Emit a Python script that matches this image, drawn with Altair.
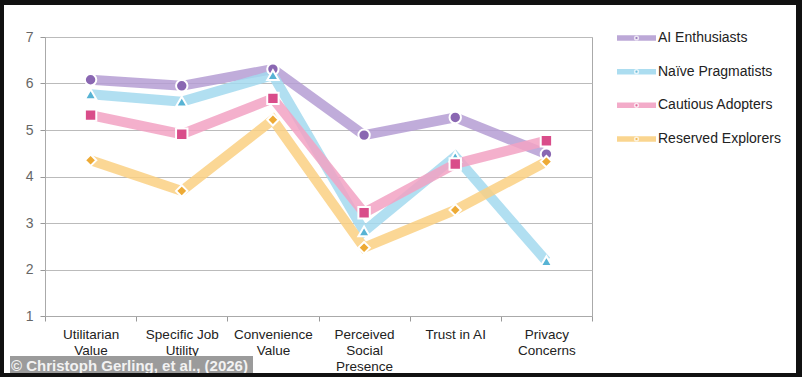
import altair as alt
import pandas as pd

categories = ["Utilitarian Value", "Specific Job Utility", "Convenience Value",
              "Perceived Social Presence", "Trust in AI", "Privacy Concerns"]
cat_lines = [["Utilitarian", "Value"], ["Specific Job", "Utility"], ["Convenience", "Value"],
             ["Perceived", "Social", "Presence"], ["Trust in AI"], ["Privacy", "Concerns"]]

series = ["AI Enthusiasts", "Naïve Pragmatists", "Cautious Adopters", "Reserved Explorers"]
ai_enthusiasts = [6.08, 5.95, 6.31, 4.89, 5.27, 4.48]
naive_pragmatists = [5.77, 5.61, 6.18, 2.82, 4.43, 2.18]
cautious_adopters = [5.32, 4.91, 5.68, 3.22, 4.27, 4.77]
reserved_explorers = [4.35, 3.69, 5.22, 2.47, 3.28, 4.32]
values = [ai_enthusiasts, naive_pragmatists, cautious_adopters, reserved_explorers]

line_colors = ["#B59ED3", "#A3D9EE", "#F2A2C3", "#FAD083"]
marker_colors = ["#8A67B2", "#57B3D4", "#D94D8A", "#EDAA35"]
shapes = ["circle", "triangle-up", "square", "diamond"]

rows = []
for s, vals in zip(series, values):
    for c, v in zip(categories, vals):
        rows.append({"series": s, "category": c, "value": v})
df = pd.DataFrame(rows)

FONT = "Liberation Sans"
W, H = 547, 279

expr = "''"
for c, ls in reversed(list(zip(categories, cat_lines))):
    arr = "[" + ",".join("'" + l + "'" for l in ls) + "]"
    expr = f"datum.label == '{c}' ? {arr} : ({expr})"

x = alt.X("category:N", sort=categories, title=None,
          scale=alt.Scale(paddingInner=0, paddingOuter=0, type="band"),
          axis=alt.Axis(labelAngle=0, labelExpr=expr, labelFont=FONT, labelFontSize=13.5,
                        labelColor="#222222", labelLineHeight=16, labelPadding=6,
                        labelBaseline="top",
                        tickBand="extent", tickColor="#999999", tickSize=5,
                        domainColor="#AAAAAA", grid=False))
y = alt.Y("value:Q", title=None,
          scale=alt.Scale(domain=[1, 7], nice=False, zero=False),
          axis=alt.Axis(values=[1, 2, 3, 4, 5, 6, 7], labelFont=FONT, labelFontSize=14,
                        labelColor="#666666", labelPadding=7, tickSize=5,
                        tickColor="#999999", domainColor="#AAAAAA",
                        gridColor="#BBBBBB", gridWidth=1))

lines = alt.Chart(df).mark_line(strokeWidth=10, opacity=0.85, strokeJoin="miter").encode(
    x=x, y=y,
    color=alt.Color("series:N", sort=series,
                    scale=alt.Scale(domain=series, range=line_colors), legend=None),
    detail="series:N",
)

points = alt.Chart(df).mark_point(filled=True, size=130, stroke="white", strokeWidth=2,
                                  opacity=1).encode(
    x=x, y=y,
    fill=alt.Fill("series:N", scale=alt.Scale(domain=series, range=marker_colors), legend=None),
    shape=alt.Shape("series:N", scale=alt.Scale(domain=series, range=shapes), legend=None),
)

# manual legend
leg_df = pd.DataFrame({"series": series})
ly = alt.Y("series:N", sort=series, axis=None,
           scale=alt.Scale(type="point", domain=series, range=[1, 102], padding=0))
leg_rule = alt.Chart(leg_df).mark_rule(strokeWidth=5.5, opacity=0.9).encode(
    x=alt.value(572), x2=alt.value(611), y=ly,
    color=alt.Color("series:N", scale=alt.Scale(domain=series, range=line_colors), legend=None),
)
leg_dot = alt.Chart(leg_df).mark_point(filled=True, size=14, stroke="white", strokeWidth=1.5).encode(
    x=alt.value(591.5), y=ly,
    fill=alt.Fill("series:N", scale=alt.Scale(domain=series, range=marker_colors), legend=None),
)
leg_text = alt.Chart(leg_df).mark_text(align="left", baseline="middle", font=FONT,
                                       fontSize=14, color="#222222").encode(
    x=alt.value(613), y=ly, text="series:N",
)
legend = alt.layer(leg_rule, leg_dot, leg_text).resolve_scale(y="independent")

# watermark and frame
wm_rect = alt.Chart(pd.DataFrame({"a": [0]})).mark_rect(color="#9B9B9B").encode(
    x=alt.value(-35), x2=alt.value(208), y=alt.value(319), y2=alt.value(337))
wm_text = alt.Chart(pd.DataFrame({"t": ["© Christoph Gerling, et al., (2026)"]})).mark_text(
    align="left", baseline="middle", font=FONT, fontSize=15, fontWeight="bold",
    color="#F2F2F2").encode(x=alt.value(-34), y=alt.value(328.5), text="t:N")

frame_df = pd.DataFrame({
    "x0": [-45, -45, 751, -45], "x1": [757, -41, 757, 757],
    "y0": [-37, -37, -37, 336], "y1": [-32, 340, 340, 340],
})
frame = alt.Chart(frame_df).mark_rect(color="#111111").encode(
    x=alt.X("x0:Q", scale=None), x2="x1:Q",
    y=alt.Y("y0:Q", scale=None), y2="y1:Q",
)

main = alt.layer(lines, points)
chart = alt.layer(main, legend, wm_rect, wm_text, frame).resolve_scale(
    y="independent", color="independent", fill="independent"
).properties(
    width=W, height=H,
    autosize=alt.AutoSizeParams(type="none"),
    padding={"left": 45, "top": 37, "right": 210, "bottom": 61},
    background="white",
).configure_view(stroke="#AAAAAA", strokeWidth=1)

chart.save("out.html", embed_options={"renderer": "svg", "actions": False})
